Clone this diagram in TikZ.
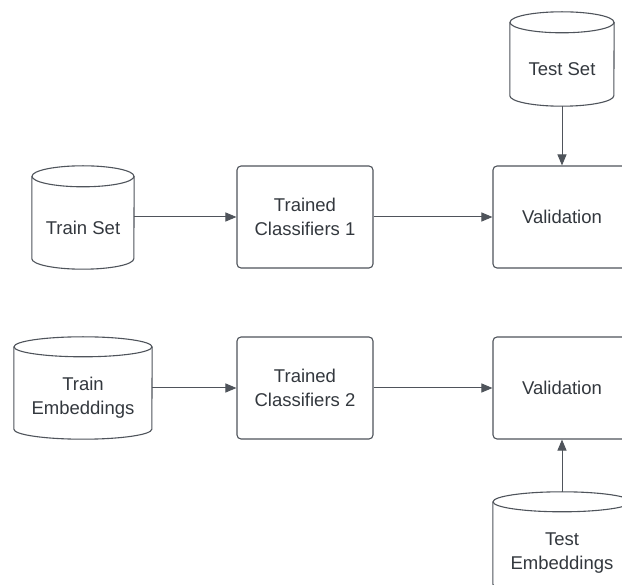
\documentclass[tikz,border=0pt]{standalone}
\usepackage{fontspec}
\setmainfont{Liberation Sans}
\usetikzlibrary{arrows.meta}
\definecolor{ln}{HTML}{4F545B}
\definecolor{tx}{HTML}{33383E}
\tikzset{
  lnst/.style={draw=ln, line width=1.1pt},
  box/.style={lnst, rounded corners=4pt, minimum width=136pt, minimum height=102pt, inner sep=0pt, align=center, text=tx, font=\fontsize{18.5}{24}\selectfont},
  dbbody/.style={draw=none, inner sep=0pt, align=center, text=tx, font=\fontsize{18.5}{24}\selectfont, minimum height=82pt},
  conn/.style={draw=ln, line width=1pt, -{Triangle[length=11pt,width=9pt]}},
}
\newcommand\cylshape[3]{%
  \draw[lnst] ([yshift=#3]#1.north west) -- ([yshift=#3]#1.south west)
    arc[start angle=180,end angle=360,x radius=#2,y radius=#3] -- ([yshift=#3]#1.north east);
  \draw[lnst] ([yshift=#3]#1.north) ellipse[x radius=#2,y radius=#3];
}
\begin{document}
\begin{tikzpicture}[x=1pt,y=1pt]
\useasboundingbox (0,0) rectangle (622,-585);
\clip (0,0) rectangle (622,-585);
\fill[white] (0,0) rectangle (622,-585);
% cylinders
\node[dbbody, minimum width=102pt] (trs) at (83,-228) {Train Set};
\cylshape{trs}{51}{10.5}
\node[dbbody, minimum width=104pt, minimum height=73pt] (tst) at (562,-69.5) {Test Set};
\cylshape{tst}{52}{10.5}
\node[dbbody, minimum width=138pt] (tre) at (83,-398) {Train\\Embeddings};
\cylshape{tre}{69}{10}
\node[dbbody, minimum width=138pt] (tee) at (562,-553) {Test\\Embeddings};
\cylshape{tee}{69}{10}
% boxes
\node[box] (c1) at (305,-217) {Trained\\Classifiers 1};
\node[box] (c2) at (305,-388) {Trained\\Classifiers 2};
\node[box, minimum width=138pt] (v1) at (562,-217) {Validation};
\node[box, minimum width=138pt] (v2) at (562,-388) {Validation};
% connectors
\draw[conn] (trs.east |- c1.west) -- (c1.west);
\draw[conn] (c1.east) -- (v1.west);
\draw[conn] (tst.south |- 0,-106) -- (v1.north);
\draw[conn] (tre.east |- c2.west) -- (c2.west);
\draw[conn] (c2.east) -- (v2.west);
\draw[conn] ([yshift=20pt]tee.north) -- (v2.south);
\end{tikzpicture}
\end{document}
